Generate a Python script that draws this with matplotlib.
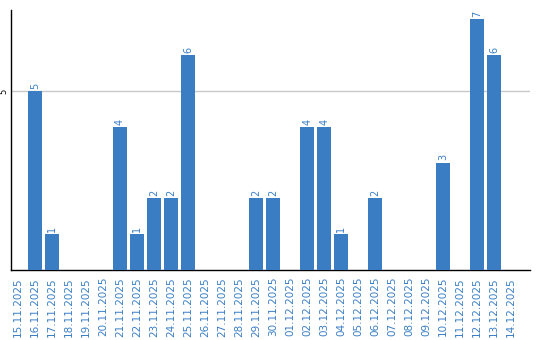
import matplotlib
matplotlib.use("Agg")
import matplotlib.pyplot as plt

dates = ["15.11.2025", "16.11.2025", "17.11.2025", "18.11.2025", "19.11.2025",
         "20.11.2025", "21.11.2025", "22.11.2025", "23.11.2025", "24.11.2025",
         "25.11.2025", "26.11.2025", "27.11.2025", "28.11.2025", "29.11.2025",
         "30.11.2025", "01.12.2025", "02.12.2025", "03.12.2025", "04.12.2025",
         "05.12.2025", "06.12.2025", "07.12.2025", "08.12.2025", "09.12.2025",
         "10.12.2025", "11.12.2025", "12.12.2025", "13.12.2025", "14.12.2025"]
values = [0, 5, 1, 0, 0, 0, 4, 1, 2, 2, 6, 0, 0, 0, 2, 2, 0, 4, 4, 1,
          0, 2, 0, 0, 0, 3, 0, 7, 6, 0]

bar_color = "#3a7dc3"
label_color = "#3a7ec6"

fig = plt.figure(figsize=(5.4, 3.4), dpi=100)
ax = fig.add_axes([0.0204, 0.2059, 0.9611, 0.7647])

x = list(range(len(dates)))
bars = ax.bar(x, values, width=0.82, color=bar_color, zorder=3)

for xi, v in zip(x, values):
    if v > 0:
        ax.annotate(str(v), (xi, v), xytext=(0, 1.5), textcoords="offset points",
                    rotation=90, ha="center", va="bottom", fontsize=7,
                    color=label_color, zorder=4)

ax.set_xlim(-0.41, 30.1)
ax.set_ylim(0, 7.26)
ax.set_xticks(x)
ax.set_xticklabels(dates, rotation=90, fontsize=7.5, color=label_color)
ax.set_yticks([5])
ax.set_yticklabels(["5"], rotation=90, fontsize=6, va="center")
ax.tick_params(axis="both", length=0)
ax.tick_params(axis="x", pad=5)
ax.tick_params(axis="y", pad=2)
ax.grid(axis="y", color="#c8c8c8", linewidth=1, zorder=1)

for s in ["top", "right"]:
    ax.spines[s].set_visible(False)
ax.spines["left"].set_color("black")
ax.spines["bottom"].set_color("black")
ax.spines["left"].set_linewidth(1.0)
ax.spines["bottom"].set_linewidth(1.0)

fig.savefig("out.png", dpi=100)
